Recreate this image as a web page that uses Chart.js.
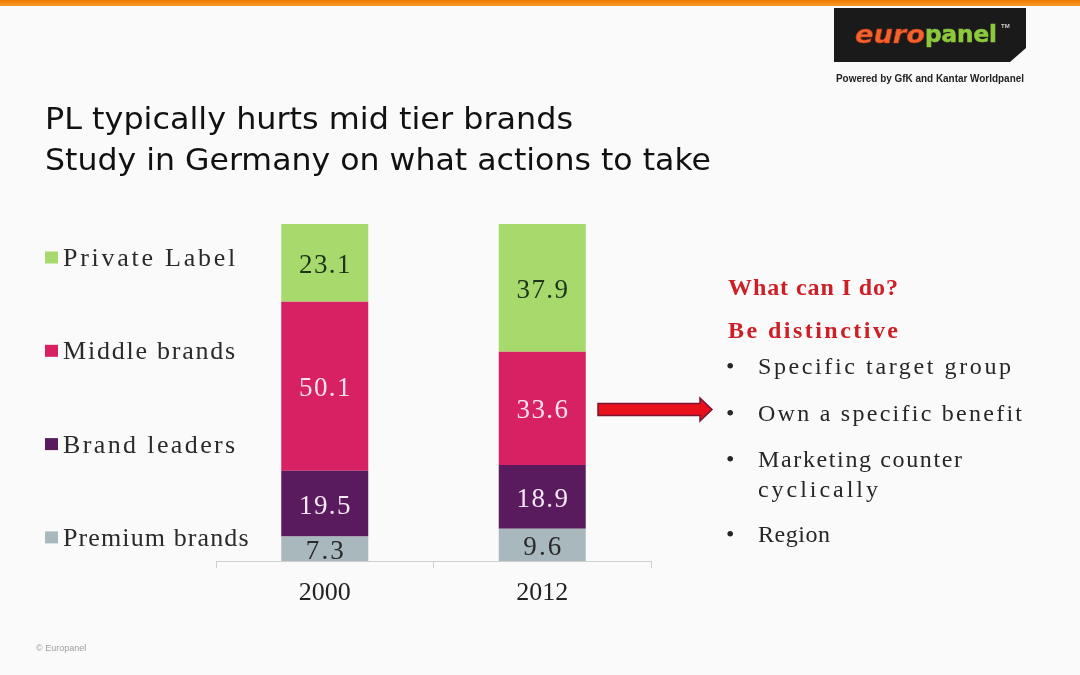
<!DOCTYPE html>
<html>
<head>
<meta charset="utf-8">
<script src="https://cdn.jsdelivr.net/npm/chart.js@4/dist/chart.umd.min.js"></script>
<style>
  html, body { margin: 0; padding: 0; }
  body { width: 1080px; height: 675px; overflow: hidden; background: #fafafa; position: relative; }
  #chart { position: absolute; left: 0; top: 0; }
  #deco { position: absolute; left: 0; top: 0; pointer-events: none; }
</style>
</head>
<body>
<canvas id="chart" width="1080" height="675"></canvas>
<svg id="deco" width="1080" height="675" viewBox="0 0 1080 675" xmlns="http://www.w3.org/2000/svg">
  <defs>
    <linearGradient id="topbar" x1="0" y1="0" x2="0" y2="1">
      <stop offset="0" stop-color="#f07a00"/>
      <stop offset="1" stop-color="#f39a2a"/>
    </linearGradient>
  </defs>
  <rect x="0" y="0" width="1080" height="6" fill="url(#topbar)"/>
  <!-- logo -->
  <path d="M834,8 H1026 V48 L1010,62 H834 Z" fill="#1a1a1a"/>
  <text x="855" y="43" font-family="DejaVu Sans" font-style="italic" font-weight="bold" font-size="25" fill="#f2652a" stroke="#c8321e" stroke-width="0.6" textLength="70" lengthAdjust="spacingAndGlyphs">euro</text>
  <text x="925" y="42" font-family="DejaVu Sans" font-weight="bold" font-size="23" fill="#8cc83c" stroke="#8cc83c" stroke-width="0.6" textLength="72" lengthAdjust="spacingAndGlyphs">panel</text>
  <text x="1001" y="28" font-family="Liberation Sans" font-weight="bold" font-size="6" fill="#cccccc">TM</text>
  <text x="836" y="82" font-family="Liberation Sans" font-weight="bold" font-size="11" fill="#222" textLength="188" lengthAdjust="spacingAndGlyphs">Powered by GfK and Kantar Worldpanel</text>
  <!-- title -->
  <text x="45" y="129" font-family="DejaVu Sans" font-size="31" fill="#111" textLength="528" lengthAdjust="spacingAndGlyphs">PL typically hurts mid tier brands</text>
  <text x="45" y="170" font-family="DejaVu Sans" font-size="31" fill="#111" textLength="666" lengthAdjust="spacingAndGlyphs">Study in Germany on what actions to take</text>
  <!-- arrow -->
  <path d="M598,403.5 H700 V398 L712,409.5 L700,421 V415.5 H598 Z" fill="#e8101a" stroke="#7a1535" stroke-width="1.5" stroke-linejoin="miter"/>
  <!-- right side text -->
  <g font-family="Liberation Serif" font-size="24">
    <text x="728" y="295" font-weight="bold" fill="#cc1f26" textLength="170" lengthAdjust="spacing">What can I do?</text>
    <text x="728" y="338" font-weight="bold" fill="#cc1f26" textLength="170" lengthAdjust="spacing">Be distinctive</text>
    <g fill="#262626">
      <text x="726" y="374">•</text>
      <text x="758" y="374" textLength="253" lengthAdjust="spacing">Specific target group</text>
      <text x="726" y="421">•</text>
      <text x="758" y="421" textLength="264" lengthAdjust="spacing">Own a specific benefit</text>
      <text x="726" y="467">•</text>
      <text x="758" y="467" textLength="204" lengthAdjust="spacing">Marketing counter</text>
      <text x="758" y="497" textLength="120" lengthAdjust="spacing">cyclically</text>
      <text x="726" y="542">•</text>
      <text x="758" y="542" textLength="72" lengthAdjust="spacing">Region</text>
    </g>
  </g>
  <text x="36" y="651" font-family="Liberation Sans" font-size="9" fill="#a0a0a0">© Europanel</text>
</svg>
<script>
// ---- data ----
const categories = ['2000', '2012'];
const seriesNames = ['Premium brands', 'Brand leaders', 'Middle brands', 'Private Label'];
const premiumBrands = [7.3, 9.6];
const brandLeaders = [19.5, 18.9];
const middleBrands = [50.1, 33.6];
const privateLabel = [23.1, 37.9];
const seriesColors = ['#a9b8bc', '#5a1b5e', '#d72163', '#a8d96c'];
const labelColors = ['#2a2a2a', '#f6e8f4', '#fbe2ee', '#1e3318'];
const yRange = [0, 100];

const SERIF = '"Liberation Serif", "Times New Roman", serif';

// draw a whole string, spread to the width of a fixed-pitch (half-width) font
function spacedText(ctx, text, x, y, advance, align) {
  const hasLS = 'letterSpacing' in ctx;
  if (hasLS) ctx.letterSpacing = '0px';
  const w = ctx.measureText(text).width;
  const n = text.length;
  const target = n * advance - 2;
  let sp = n > 1 ? (target - w) / (n - 1) : 0;
  if (sp < 0) sp = 0;
  const total = w + sp * (n - 1);
  const left = align === 'center' ? x - total / 2 : x;
  ctx.textAlign = 'left';
  if (hasLS) {
    ctx.letterSpacing = sp.toFixed(2) + 'px';
    ctx.fillText(text, left, y);
    ctx.letterSpacing = '0px';
  } else {
    ctx.save();
    ctx.translate(left, y);
    ctx.scale(total / w, 1);
    ctx.fillText(text, 0, 0);
    ctx.restore();
  }
}

const valueLabels = {
  id: 'valueLabels',
  afterDatasetsDraw(chart) {
    const ctx = chart.ctx;
    const a = chart.chartArea;
    ctx.save();
    ctx.beginPath();
    ctx.rect(a.left, a.top, a.right - a.left, a.bottom - a.top);
    ctx.clip();
    ctx.font = '27px ' + SERIF;
    ctx.textBaseline = 'middle';
    chart.data.datasets.forEach((ds, i) => {
      const meta = chart.getDatasetMeta(i);
      meta.data.forEach((bar, j) => {
        const cy = (bar.y + bar.base) / 2 + 3;
        ctx.fillStyle = labelColors[i];
        spacedText(ctx, ds.data[j].toFixed(1), bar.x, cy, 13.4, 'center');
      });
    });
    ctx.restore();
  }
};

const sideLegend = {
  id: 'sideLegend',
  afterDraw(chart) {
    const ctx = chart.ctx;
    const dsets = chart.data.datasets;
    const n = dsets.length;
    const top = 257.5, gap = 93.3;
    ctx.save();
    ctx.font = '26px ' + SERIF;
    ctx.textBaseline = 'alphabetic';
    for (let k = 0; k < n; k++) {
      const ds = dsets[n - 1 - k];
      const cy = top + k * gap;
      ctx.fillStyle = ds.backgroundColor;
      ctx.fillRect(45, cy - 6, 13, 12);
      ctx.fillStyle = '#2a2a2a';
      spacedText(ctx, ds.label, 63, cy + 8.5, 13.4, 'left');
    }
    ctx.restore();
  }
};

const seriesData = [premiumBrands, brandLeaders, middleBrands, privateLabel];

new Chart(document.getElementById('chart'), {
  type: 'bar',
  data: {
    labels: categories,
    datasets: seriesNames.map((name, i) => ({
      label: name,
      data: seriesData[i],
      backgroundColor: seriesColors[i],
      borderWidth: 0,
      categoryPercentage: 0.8,
      barPercentage: 0.5
    }))
  },
  options: {
    responsive: false,
    animation: false,
    devicePixelRatio: 1,
    layout: { padding: { left: 216, right: 429, top: 224, bottom: 54 } },
    scales: {
      x: {
        stacked: true,
        grid: { offset: true, drawOnChartArea: false, drawTicks: true, tickLength: 7, color: '#cfcfcf', lineWidth: 1 },
        border: { display: true, color: '#cfcfcf', width: 1 },
        ticks: { font: { family: SERIF, size: 26 }, color: '#222', padding: 10 },
        afterFit: (scale) => { scale.height = 60; }
      },
      y: {
        stacked: true,
        display: false,
        min: yRange[0],
        max: yRange[1]
      }
    },
    plugins: {
      legend: { display: false },
      tooltip: { enabled: false }
    }
  },
  plugins: [valueLabels, sideLegend]
});
</script>
</body>
</html>
